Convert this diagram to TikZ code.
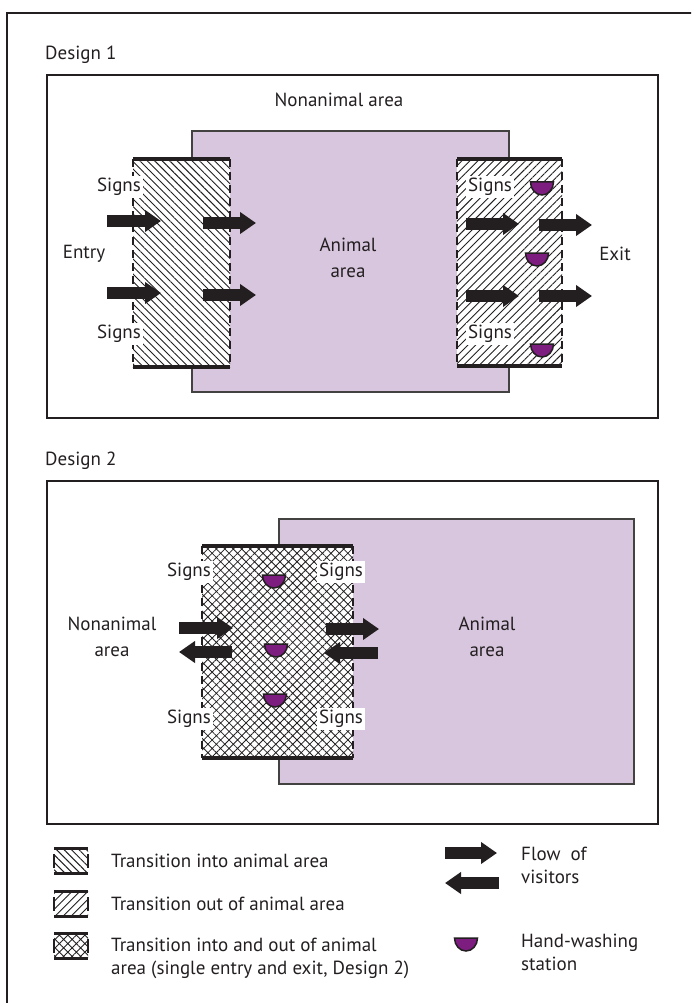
\documentclass[tikz,border=0pt]{standalone}
\usepackage{fontspec}
\setmainfont{PT Sans}
\usetikzlibrary{arrows.meta}
\usetikzlibrary{patterns.meta}
\definecolor{ink}{HTML}{231F20}
\definecolor{animal}{HTML}{D8C6DE}
\definecolor{sink}{HTML}{7D1D80}
% transition zone: pattern, left, top, right, bottom
\newcommand{\gate}[5]{%
  \fill[white] (#2,#3) rectangle (#4,#5);
  \fill[#1] (#2,#3) rectangle (#4,#5);
  \draw[side] (#2,#3) -- (#2,#5) (#4,#3) -- (#4,#5);
  \draw[bar] (#2,#3) -- (#4,#3) (#2,#5) -- (#4,#5);}

\begin{document}
\begin{tikzpicture}[x=1pt, y=-1pt,
  txt/.style={font=\fontsize{19}{26}\selectfont, text=ink, inner sep=0pt},
  legtxt/.style={font=\fontsize{19}{23}\selectfont, text=ink, inner sep=0pt, anchor=west, align=left},
  signs/.style={txt, fill=white, inner sep=2pt},
  frame/.style={draw=ink, line width=2.5pt},
  animal/.style={draw=ink!85, line width=2pt, fill=animal},
  bar/.style={draw=ink, line width=4pt},
  side/.style={draw=ink, line width=2.5pt, dash pattern=on 8pt off 5pt},
  into/.style={pattern={Lines[angle=-45,distance=5.3pt,line width=0.9pt]}, pattern color=ink},
  outof/.style={pattern={Lines[angle=45,distance=5.6pt,line width=0.9pt]}, pattern color=ink},
  both/.style={pattern={Hatch[angle=45,distance=6pt,line width=0.8pt]}, pattern color=ink},
  flow/.style={draw=ink, line width=12pt, -{Triangle[length=16pt,width=21pt]}},
  bowl/.pic={\draw[fill=sink, draw=ink, line width=1.5pt] (-11.5,0) arc (180:0:11.5 and 13) -- cycle;}]
\useasboundingbox (0,0) rectangle (691,1003);
\clip (0,0) rectangle (691,1003);
\draw[frame] (700,13) -- (7,13) -- (7,1010);

% Design 1
\node[txt, anchor=west] (d1) at (45,55) {Design 1};
\draw[frame] (47,75) rectangle (658,418);
\draw[animal] (192,131) rectangle (509,392);
\gate{into}{133}{159}{230}{367}
\gate{outof}{457}{159}{562}{366}
\node[txt] (non1) at (339,100) {Nonanimal area};
\node[txt, align=center] (ani1) at (348,258) {Animal\\area};
\node[txt] (entry) at (84,254) {Entry};
\node[txt] (exit) at (615,254) {Exit};
\node[signs] (s1) at (119,187) {Signs};
\node[signs] (s2) at (119,334) {Signs};
\node[signs] (s3) at (490,187) {Signs};
\node[signs] (s4) at (490,334) {Signs};
\draw[flow] (107,221) -- (161,221);
\draw[flow] (203,223) -- (256,223);
\draw[flow] (107,293) -- (161,293);
\draw[flow] (203,295) -- (256,295);
\draw[flow] (466,224) -- (519,224);
\draw[flow] (539,225) -- (592,225);
\draw[flow] (466,296) -- (519,296);
\draw[flow] (539,296) -- (592,296);
\pic at (542,182) {bowl};
\pic at (537,253) {bowl};
\pic at (542,344) {bowl};

% Design 2
\node[txt, anchor=west] (d2) at (45,461) {Design 2};
\draw[frame] (47,481) rectangle (658,824);
\draw[animal] (279,519) rectangle (634,784);
\gate{both}{202}{546}{353}{758}
\node[txt, align=center] (non2) at (112,637) {Nonanimal\\area};
\node[txt, align=center] (ani2) at (487,637) {Animal\\area};
\node[signs] (s5) at (189,572) {Signs};
\node[signs] (s6) at (341,572) {Signs};
\node[signs] (s7) at (189,719) {Signs};
\node[signs] (s8) at (341,719) {Signs};
\draw[flow] (179,628) -- (233,628);
\draw[flow] (232,652) -- (179,652);
\draw[flow] (326,629) -- (379,629);
\draw[flow] (378,653) -- (324,653);
\pic at (274,575) {bowl};
\pic at (276,644) {bowl};
\pic at (275,694) {bowl};

% legend
\begin{scope}[bar/.style={draw=ink, line width=3pt},
  side/.style={draw=ink, line width=2pt, dash pattern=on 0pt off 6pt on 14pt off 6pt}]
\gate{into}{54}{848}{88}{873}
\gate{outof}{54}{891}{88}{916}
\gate{both}{54}{933}{88}{958}
\end{scope}
\node[legtxt] (l1) at (111,861) {Transition into animal area};
\node[legtxt] (l2) at (111,904) {Transition out of animal area};
\node[legtxt] (l3) at (111,958) {Transition into and out of animal\\area (single entry and exit, Design 2)};
\draw[flow] (445,853) -- (497,853);
\draw[flow] (499,883) -- (445,883);
\node[legtxt] (l4) at (521,865) {Flow~~of\\visitors};
\pic at (466,938) {bowl};
\node[legtxt] (l5) at (521,952) {Hand-washing\\station};
\end{tikzpicture}
\end{document}
